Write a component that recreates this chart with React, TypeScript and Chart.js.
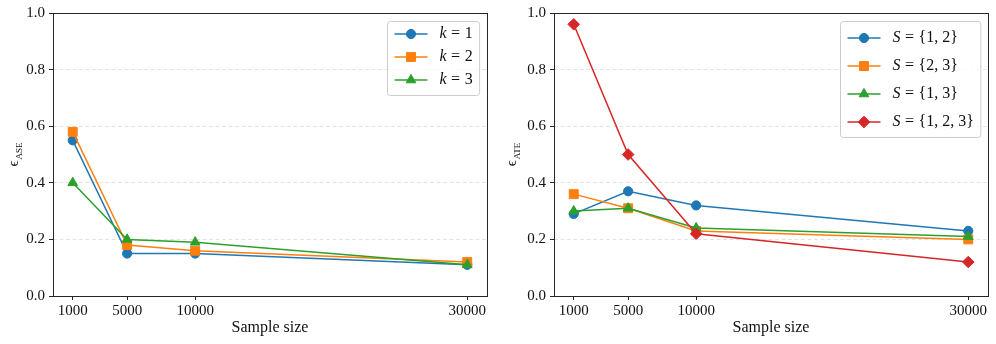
import React, { useEffect, useRef } from "react";
import { Chart, registerables } from "chart.js";
import { drawPoint } from "chart.js/helpers";

Chart.register(...registerables);

// ---------- data ----------
const sampleSizes = [1000, 5000, 10000, 30000];
const yTickValues = [0, 0.2, 0.4, 0.6, 0.8, 1.0];
const xTitle = "Sample size";

const aseLabels = ["k=1", "k=2", "k=3"];
const aseK1 = [0.55, 0.15, 0.15, 0.11];
const aseK2 = [0.58, 0.18, 0.16, 0.12];
const aseK3 = [0.4, 0.2, 0.19, 0.11];

const ateLabels = ["S={1, 2}", "S={2, 3}", "S={1, 3}", "S={1, 2, 3}"];
const ateS12 = [0.29, 0.37, 0.32, 0.23];
const ateS23 = [0.36, 0.31, 0.23, 0.2];
const ateS13 = [0.3, 0.31, 0.24, 0.21];
const ateS123 = [0.96, 0.5, 0.22, 0.12];

// ---------- styles ----------
const COLORS = ["#1f77b4", "#ff7f0e", "#2ca02c", "#d62728"];
const STYLES: [string, number][] = [
  ["circle", 4.6],
  ["rect", 6.3],
  ["triangle", 5.6],
  ["rectRot", 5.8],
];
const SERIF = '"Liberation Serif", "Times New Roman", "DejaVu Serif", serif';

function buildDatasets(labels: string[], series: number[][]) {
  return series.map((vals, i) => ({
    label: labels[i],
    data: sampleSizes.map((x, j) => ({ x, y: vals[j] })),
    borderColor: COLORS[i],
    backgroundColor: COLORS[i],
    borderWidth: 1.5,
    pointStyle: STYLES[i][0],
    pointRadius: STYLES[i][1],
    pointBorderWidth: 1,
    pointBackgroundColor: COLORS[i],
    pointBorderColor: COLORS[i],
    tension: 0,
    fill: false,
    order: 10 - i,
  }));
}

const decorPlugin = {
  id: "decor",
  afterDraw(chart: any, _args: any, opts: any) {
    const { ctx, chartArea: ca } = chart;
    ctx.save();
    ctx.setLineDash([]);
    // frame
    ctx.strokeStyle = "#262626";
    ctx.lineWidth = 1;
    ctx.strokeRect(ca.left + 0.5, ca.top + 0.5, ca.right - ca.left, ca.bottom - ca.top);

    // x title
    ctx.fillStyle = "#111";
    ctx.font = `16px ${SERIF}`;
    ctx.textAlign = "center";
    ctx.textBaseline = "middle";
    ctx.fillText(xTitle, (ca.left + ca.right) / 2, chart.height - 16);

    // y title (epsilon with subscript), rotated
    ctx.save();
    ctx.translate(13.5, (ca.top + ca.bottom) / 2);
    ctx.rotate(-Math.PI / 2);
    ctx.textAlign = "left";
    ctx.textBaseline = "alphabetic";
    const main = "\u03f5";
    ctx.font = `15px ${SERIF}`;
    const w1 = ctx.measureText(main).width;
    ctx.font = `9px ${SERIF}`;
    const w2 = ctx.measureText(opts.sub).width;
    const x0 = -(w1 + w2 + 1) / 2;
    ctx.font = `15px ${SERIF}`;
    ctx.fillText(main, x0, 4);
    ctx.font = `9px ${SERIF}`;
    ctx.fillText(opts.sub, x0 + w1 + 1, 8);
    ctx.restore();

    // legend
    const labels: string[] = opts.labels;
    const fs = 16;
    const parts = labels.map((l) => {
      const k = l.indexOf("=");
      return [l.slice(0, k), l.slice(k + 1)];
    });
    const gap = 4.5;
    const widths = parts.map(([v, r]) => {
      ctx.font = `italic ${fs}px ${SERIF}`;
      const wv = ctx.measureText(v).width;
      ctx.font = `${fs}px ${SERIF}`;
      const we = ctx.measureText("=").width;
      const wr = ctx.measureText(r).width;
      return { wv, we, wr, total: wv + gap + we + gap + wr };
    });
    const maxW = Math.max(...widths.map((w) => w.total));
    const padL = 7, lineLen = 33, textGap = 12, padR = 7;
    const boxW = padL + lineLen + textGap + maxW + padR;
    const boxH = opts.firstRow + (labels.length - 1) * opts.rowH + opts.lastPad;
    const bx = Math.round(ca.right - 8 - boxW) + 0.5;
    const by = ca.top + 8 + 0.5;
    ctx.beginPath();
    (ctx as any).roundRect(bx, by, boxW, boxH, 3);
    ctx.fillStyle = "rgba(255,255,255,0.8)";
    ctx.fill();
    ctx.strokeStyle = "#cccccc";
    ctx.lineWidth = 1;
    ctx.stroke();

    labels.forEach((_, i) => {
      const y = by - 0.5 + opts.firstRow + i * opts.rowH;
      const lx = bx + padL;
      ctx.strokeStyle = COLORS[i];
      ctx.fillStyle = COLORS[i];
      ctx.lineWidth = 1.5;
      ctx.beginPath();
      ctx.moveTo(lx, y);
      ctx.lineTo(lx + lineLen, y);
      ctx.stroke();
      ctx.lineWidth = 1;
      drawPoint(ctx, { pointStyle: STYLES[i][0] as any, radius: STYLES[i][1], rotation: 0, borderWidth: 1 } as any, lx + lineLen / 2, y);

      let tx = lx + lineLen + textGap;
      ctx.fillStyle = "#111";
      ctx.textAlign = "left";
      ctx.textBaseline = "middle";
      ctx.font = `italic ${fs}px ${SERIF}`;
      ctx.fillText(parts[i][0], tx, y);
      tx += widths[i].wv + gap;
      ctx.font = `${fs}px ${SERIF}`;
      ctx.fillText("=", tx, y);
      tx += widths[i].we + gap;
      ctx.fillText(parts[i][1], tx, y);
    });
    ctx.restore();
  },
};

type PanelProps = {
  left: number;
  labels: string[];
  series: number[][];
  sub: string;
  axisW: number;
  rightPad: number;
  firstRow: number;
  rowH: number;
  lastPad: number;
};

function Panel(p: PanelProps) {
  const ref = useRef<HTMLCanvasElement>(null);
  useEffect(() => {
    const chart = new Chart(ref.current as HTMLCanvasElement, {
      type: "line",
      data: { datasets: buildDatasets(p.labels, p.series) as any },
      options: {
        responsive: false,
        animation: false,
        devicePixelRatio: 1,
        layout: { padding: { top: 12, right: p.rightPad, left: 0, bottom: 0 } },
        plugins: {
          legend: { display: false },
          tooltip: { enabled: false },
          decor: { sub: p.sub, labels: p.labels, firstRow: p.firstRow, rowH: p.rowH, lastPad: p.lastPad },
        } as any,
        scales: {
          x: {
            type: "linear",
            min: -450,
            max: 31450,
            afterBuildTicks: (s: any) => {
              s.ticks = sampleSizes.map((v) => ({ value: v }));
            },
            afterFit: (s: any) => {
              s.height = 48;
            },
            grid: { drawOnChartArea: false, drawTicks: true, tickLength: 4, tickColor: "#262626", tickWidth: 1 },
            border: { display: false },
            ticks: {
              font: { family: SERIF, size: 15 },
              color: "#111",
              padding: 2,
              maxRotation: 0,
              autoSkip: false,
              callback: (v: any) => String(v),
            },
          },
          y: {
            type: "linear",
            min: 0,
            max: 1,
            afterBuildTicks: (s: any) => {
              s.ticks = yTickValues.map((v) => ({ value: v }));
            },
            afterFit: (s: any) => {
              s.width = p.axisW;
            },
            grid: { color: "#dcdcdc", lineWidth: 0.8, drawTicks: true, tickLength: 4, tickColor: "#262626", tickWidth: 1 },
            border: { display: false, dash: [4, 2.5] },
            ticks: {
              font: { family: SERIF, size: 15 },
              color: "#111",
              padding: 4,
              callback: (v: any) => Number(v).toFixed(1),
            },
          },
        },
      },
      plugins: [decorPlugin as any],
    });
    return () => chart.destroy();
  }, []);
  return (
    <div style={{ position: "absolute", left: p.left, top: 0, width: 498, height: 344 }}>
      <canvas ref={ref} width={498} height={344} style={{ width: 498, height: 344, display: "block" }} />
    </div>
  );
}

export default function App() {
  return (
    <div style={{ position: "absolute", left: 0, top: 0, width: 996, height: 344, background: "#fff" }}>
      <Panel
        left={0}
        labels={aseLabels}
        series={[aseK1, aseK2, aseK3]}
        sub="ASE"
        axisW={53}
        rightPad={11}
        firstRow={13}
        rowH={23}
        lastPad={15}
      />
      <Panel
        left={498}
        labels={ateLabels}
        series={[ateS12, ateS23, ateS13, ateS123]}
        sub="ATE"
        axisW={56}
        rightPad={8}
        firstRow={17}
        rowH={28}
        lastPad={15}
      />
    </div>
  );
}
